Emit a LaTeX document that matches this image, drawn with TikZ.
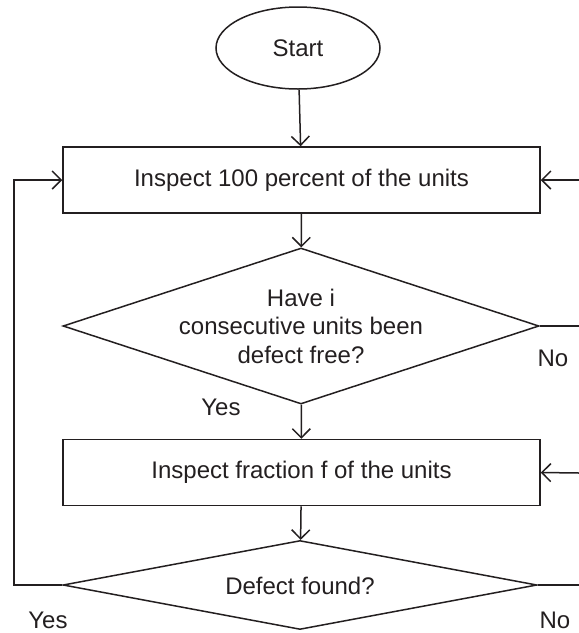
\documentclass[tikz,border=0pt]{standalone}
\usepackage{fontspec}
\setmainfont{Liberation Sans}
\usetikzlibrary{shapes.geometric,arrows.meta}
\begin{document}
\begin{tikzpicture}[x=1pt,y=-1pt,
  line width=1.5pt, draw={rgb,255:red,35;green,31;blue,32},
  every node/.style={font=\fontsize{24}{28.5}\selectfont, text={rgb,255:red,35;green,31;blue,32}},
  terminal/.style={draw, ellipse, minimum width=164pt, minimum height=82pt, inner sep=0pt},
  process/.style={draw, rectangle, minimum width=477pt, minimum height=66pt, inner sep=0pt},
  decision/.style={draw, diamond, inner sep=0pt},
  flow/.style={-{Straight Barb[length=9pt,width=18pt,line width=1.5pt]}},
  lbl/.style={inner sep=0pt}
]
\useasboundingbox (0,0) rectangle (579,633);

% main column
\node[terminal] (start) at (298,48) {Start};
\node[process] (full) at (301.5,180) {Inspect 100 percent of the units};
\node[decision, minimum width=476pt, minimum height=156pt] (run) at (301,326) {};
\node[align=center, inner sep=0pt] (runtxt) at (301,326) {Have i\\consecutive units been\\defect free?};
\node[process] (frac) at (301.5,472.5) {Inspect fraction f of the units};
\node[decision, minimum width=474pt, minimum height=89pt] (found) at (300,585) {};
\node[inner sep=0pt] (foundtxt) at (300,586) {Defect found?};

% return paths
\coordinate (lb) at (14,585);
\coordinate (lt) at (14,180);
\coordinate (r1) at (579,180);
\coordinate (r2) at (579,326);
\coordinate (r3) at (579,473);
\coordinate (r4) at (579,585);

\draw[flow] (start) -- (full);
\draw[flow] (full) -- (run);
\draw[flow] (run) -- (frac);
\draw[flow] (frac) -- (found);
\draw[flow] (found.west) -- (lb) -- (lt) -- (full.west);
\draw (run.east) -- (r2);
\draw[flow] (r1) -- (full.east);
\draw[flow] (r3) -- (frac.east);
\draw (found.east) -- (r4);

% branch labels
\node[lbl] (yes1) at (221,407) {Yes};
\node[lbl] (no1) at (553,358) {No};
\node[lbl] (yes2) at (48,620) {Yes};
\node[lbl] (no2) at (555,620) {No};
\end{tikzpicture}
\end{document}
